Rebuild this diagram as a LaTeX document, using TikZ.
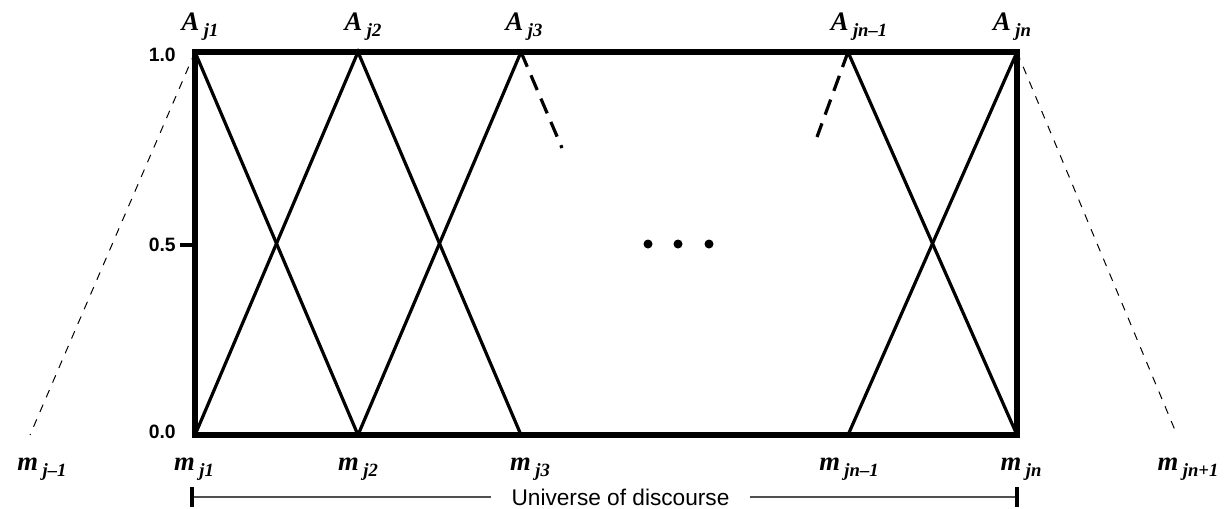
\documentclass[tikz,border=0pt]{standalone}
\usepackage{fontspec}
\setmainfont{Liberation Serif}
\setsansfont{Liberation Sans}
\usepackage{tikz}
\usetikzlibrary{calc}
\definecolor{axisgray}{RGB}{80,80,80}
\newcommand{\fsub}[2]{#1\,\raisebox{-5pt}{\fontsize{14}{14}\selectfont #2}}
\tikzset{
  boxframe/.style={line width=4.5pt, line join=miter},
  leg/.style={line width=2.4pt},
  legdash/.style={line width=2.4pt, dash pattern=on 12pt off 7pt},
  outleg/.style={line width=0.75pt, dash pattern=on 6pt off 6pt},
  setlbl/.style={font=\fontsize{20}{20}\selectfont\bfseries\itshape,
    anchor=base, inner sep=0pt},
  grade/.style={font=\fontsize{14.5}{15}\selectfont\sffamily\bfseries,
    anchor=east, inner sep=0pt},
  dot/.style={circle, fill=black, inner sep=0pt, minimum size=6.75pt},
  uod/.style={font=\fontsize{17}{17}\selectfont\sffamily,
    inner xsep=15pt, inner ysep=0pt},
  uline/.style={line width=1.5pt, color=axisgray},
  utick/.style={line width=2.4pt},
}

\begin{document}
\begin{tikzpicture}[x=0.75pt, y=-0.75pt]
  \useasboundingbox (0,0) rectangle (1224,508);

  % peaks (grade 1.0) and feet (grade 0.0)
  \coordinate (t1) at (195,52);
  \coordinate (t2) at (358,52);
  \coordinate (t3) at (521,52);
  \coordinate (tn1) at (848,52);
  \coordinate (tn) at (1017,52);
  \coordinate (b1) at (195,435);
  \coordinate (b2) at (358,435);
  \coordinate (b3) at (521,435);
  \coordinate (bn1) at (848,435);
  \coordinate (bn) at (1017,435);
  \coordinate (bL) at (30,435);
  \coordinate (bR) at (1177,435);
  \coordinate (e3) at (562,148);
  \coordinate (en1) at (817,137);

  % neighbouring sets outside the universe
  \draw[outleg] (t1) -- (bL);
  \draw[outleg] (tn) -- (bR);

  % triangular sets
  \draw[leg] (t1) -- (b2);
  \draw[leg] (b1) -- (t2) -- (b3);
  \draw[leg] (b2) -- (t3);
  \draw[legdash] (t3) -- (e3);
  \draw[legdash] (tn1) -- (en1);
  \draw[leg] (tn1) -- (bn);
  \draw[leg] (bn1) -- (tn);

  \draw[boxframe] (b1) rectangle (tn);
  \coordinate (half) at (195,245);
  \draw[utick] (half) -- ++(-15,0);

  \node[grade] (g10) at (176,55) {1.0};
  \node[grade] (g05) at (176,245) {0.5};
  \node[grade] (g00) at (176,432) {0.0};

  \node[setlbl] (a1) at (200,30) {\fsub{A}{j1}};
  \node[setlbl] (a2) at (363,30) {\fsub{A}{j2}};
  \node[setlbl] (a3) at (524,30) {\fsub{A}{j3}};
  \node[setlbl] (an1) at (859,30) {\fsub{A}{jn--1}};
  \node[setlbl] (an) at (1012,30) {\fsub{A}{jn}};

  \node[setlbl] (mL) at (42,470) {\fsub{m}{j--1}};
  \node[setlbl] (m1) at (194,470) {\fsub{m}{j1}};
  \node[setlbl] (m2) at (358,470) {\fsub{m}{j2}};
  \node[setlbl] (m3) at (530,470) {\fsub{m}{j3}};
  \node[setlbl] (mn1) at (849,470) {\fsub{m}{jn--1}};
  \node[setlbl] (mn) at (1021,470) {\fsub{m}{jn}};
  \node[setlbl] (mR) at (1188,470) {\fsub{m}{jn+1}};

  \node[dot] (d1) at (648,244) {};
  \node[dot] (d2) at (678,244) {};
  \node[dot] (d3) at (709,244) {};

  % universe of discourse
  \coordinate (uL) at (192,497);
  \coordinate (uR) at (1017,497);
  \node[uod] (univ) at (620.5,497) {Universe of discourse};
  \draw[uline] (uL) -- (univ);
  \draw[uline] (univ) -- (uR);
  \draw[utick] ($(uL)+(0,-10)$) -- ($(uL)+(0,10)$);
  \draw[utick] ($(uR)+(0,-10)$) -- ($(uR)+(0,10)$);
\end{tikzpicture}
\end{document}
